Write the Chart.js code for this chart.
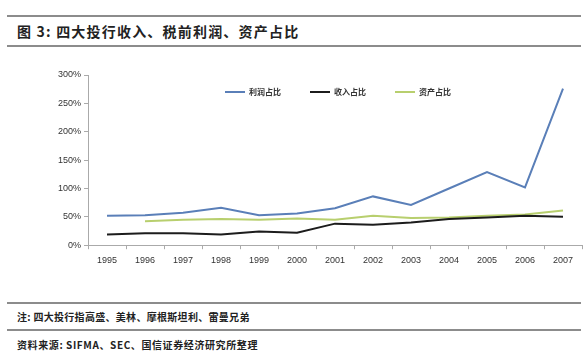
<!DOCTYPE html>
<html>
<head>
<meta charset="utf-8">
<script src="https://cdn.jsdelivr.net/npm/chart.js@4"></script>
<style>
  body { margin: 0; background: #fff; width: 588px; height: 360px; position: relative; overflow: hidden; font-family: "Noto Sans CJK SC", sans-serif; }
  .rule { position: absolute; left: 7px; width: 574px; height: 2px; background: #8c8c8c; }
  .txt { position: absolute; left: 17px; color: #222; }
  #title { top: 21px; font-size: 14px; font-weight: bold; letter-spacing: 1.2px; }
  #note { top: 309px; font-size: 10px; font-weight: bold; letter-spacing: 0.3px; }
  #src { top: 337px; font-size: 10px; font-weight: bold; letter-spacing: 0.6px; }
  #wrap { position: absolute; left: 0; top: 50px; width: 588px; height: 222px; }
</style>
</head>
<body>
<div class="rule" style="top:15px"></div>
<div class="txt" id="title">图 3: 四大投行收入、税前利润、资产占比</div>
<div class="rule" style="top:45px"></div>
<div id="wrap"><canvas id="ratioChart"></canvas></div>
<div class="rule" style="top:302px"></div>
<div class="txt" id="note">注: 四大投行指高盛、美林、摩根斯坦利、雷曼兄弟</div>
<div class="rule" style="top:329px"></div>
<div class="txt" id="src">资料来源: SIFMA、SEC、国信证券经济研究所整理</div>
<script>
// years and series (percent)
const years = ["1995", "1996", "1997", "1998", "1999", "2000", "2001", "2002", "2003", "2004", "2005", "2006", "2007"];
const profitShare = [52, 53, 57, 66, 53, 56, 65, 86, 71, 100, 129, 102, 276];
const revenueShare = [19, 21, 21, 19, 24, 22, 38, 36, 40, 46, 49, 52, 50];
const assetShare = [null, 42, 45, 46, 45, 47, 45, 52, 48, 49, 52, 54, 61];
const yTicks = [0, 50, 100, 150, 200, 250, 300];

// legend drawn inside the plot, like the original
const innerLegend = {
    id: "innerLegend",
    afterDraw(chart) {
        const ctx = chart.ctx;
        const xs = [225, 310, 395];
        const y = 42;
        ctx.save();
        ctx.font = "bold 8px 'Noto Sans CJK SC'";
        ctx.textBaseline = "middle";
        chart.data.datasets.forEach((ds, i) => {
            ctx.strokeStyle = ds.borderColor;
            ctx.lineWidth = 2;
            ctx.beginPath();
            ctx.moveTo(xs[i], y);
            ctx.lineTo(xs[i] + 20, y);
            ctx.stroke();
            ctx.fillStyle = "#333";
            ctx.fillText(ds.label, xs[i] + 24, y);
        });
        ctx.restore();
    }
};

const ctxRatio = document.getElementById("ratioChart");
new Chart(ctxRatio, {
    type: "line",
    data: {
        labels: years,
        datasets: [
            { label: "利润占比", data: profitShare, borderColor: "#5a7fb8", borderWidth: 2, pointRadius: 0, tension: 0 },
            { label: "收入占比", data: revenueShare, borderColor: "#1c1c1c", borderWidth: 2, pointRadius: 0, tension: 0 },
            { label: "资产占比", data: assetShare, borderColor: "#b8cf6e", borderWidth: 2, pointRadius: 0, tension: 0 }
        ]
    },
    options: {
        responsive: true,
        maintainAspectRatio: false,
        animation: false,
        layout: { padding: { left: 55, right: 6, top: 25, bottom: 0 } },
        plugins: { legend: { display: false }, tooltip: { enabled: false } },
        scales: {
            x: {
                offset: true,
                grid: { offset: true, drawOnChartArea: false, drawTicks: true, tickLength: 4, color: "#aaa" },
                border: { color: "#aaa" },
                ticks: { color: "#333", font: { family: "Liberation Sans", size: 9 }, maxRotation: 0, padding: 6 }
            },
            y: {
                min: 0,
                max: 300,
                afterBuildTicks: (axis) => { axis.ticks = yTicks.map(v => ({ value: v })); },
                grid: { drawOnChartArea: false, drawTicks: true, tickLength: 4, color: "#aaa" },
                border: { color: "#aaa" },
                ticks: { color: "#333", font: { family: "Liberation Sans", size: 9 }, padding: 3, callback: v => v + "%" }
            }
        }
    },
    plugins: [innerLegend]
});
</script>
</body>
</html>
